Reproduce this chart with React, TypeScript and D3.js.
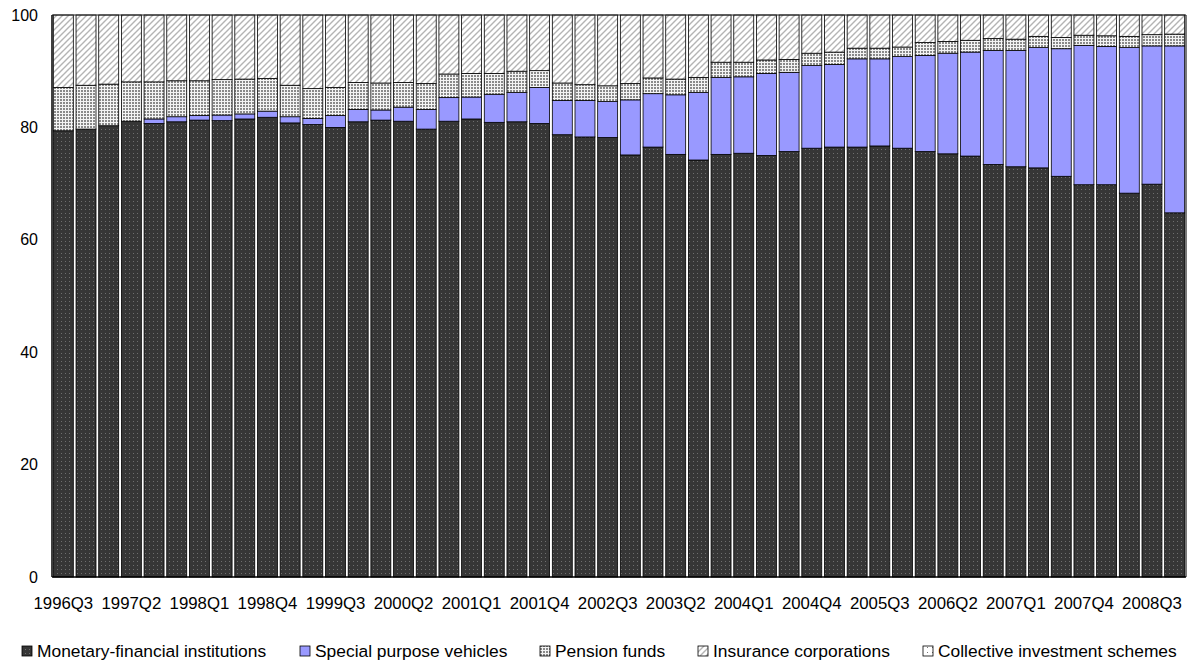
import React from "react";
import * as d3 from "d3";

const quarters = [
  "1996Q3","1996Q4","1997Q1","1997Q2","1997Q3","1997Q4","1998Q1","1998Q2","1998Q3","1998Q4",
  "1999Q1","1999Q2","1999Q3","1999Q4","2000Q1","2000Q2","2000Q3","2000Q4","2001Q1","2001Q2",
  "2001Q3","2001Q4","2002Q1","2002Q2","2002Q3","2002Q4","2003Q1","2003Q2","2003Q3","2003Q4",
  "2004Q1","2004Q2","2004Q3","2004Q4","2005Q1","2005Q2","2005Q3","2005Q4","2006Q1","2006Q2",
  "2006Q3","2006Q4","2007Q1","2007Q2","2007Q3","2007Q4","2008Q1","2008Q2","2008Q3","2008Q4",
];

const tickLabels = [
  "1996Q3","1997Q2","1998Q1","1998Q4","1999Q3","2000Q2","2001Q1","2001Q4","2002Q3",
  "2003Q2","2004Q1","2004Q4","2005Q3","2006Q2","2007Q1","2007Q4","2008Q3",
];

const yTicks = [0, 20, 40, 60, 80, 100];

const mfi = [79.4,79.7,80.3,81.1,80.7,81.0,81.3,81.2,81.5,81.8,80.8,80.5,80.0,81.0,81.3,81.1,79.7,81.1,81.5,80.9,81.0,80.7,78.7,78.3,78.2,75.1,76.5,75.2,74.2,75.2,75.4,75.0,75.7,76.3,76.5,76.5,76.7,76.3,75.7,75.3,74.9,73.4,73.0,72.8,71.3,69.8,69.8,68.3,69.9,64.8];
const spv = [0,0,0,0,0.8,0.9,0.8,1.0,0.9,1.1,1.1,1.1,2.1,2.2,1.8,2.5,3.5,4.2,3.9,5.0,5.2,6.4,6.1,6.5,6.4,9.8,9.5,10.6,12.0,13.7,13.6,14.6,14.1,14.7,14.7,15.7,15.5,16.3,17.1,17.9,18.5,20.3,20.7,21.4,22.7,24.8,24.6,25.9,24.6,29.7];
const pension = [7.7,7.8,7.4,7.0,6.6,6.4,6.2,6.3,6.2,5.8,5.6,5.3,5.0,4.8,4.8,4.4,4.6,4.2,4.2,3.7,3.8,3.0,3.1,2.8,2.8,2.9,2.8,2.8,2.7,2.7,2.6,2.4,2.3,2.2,2.2,1.9,1.9,1.7,2.3,2.1,2.1,2.1,2.0,2.0,2.0,1.8,1.9,2.0,2.0,2.1];
const insurance = [12.9,12.5,12.3,11.9,11.9,11.7,11.7,11.5,11.4,11.3,12.5,13.1,12.9,12.0,12.1,12.0,12.2,10.5,10.4,10.4,10.0,9.9,12.1,12.4,12.6,12.2,11.2,11.4,11.1,8.4,8.4,8.0,7.9,6.8,6.6,5.9,5.9,5.7,4.9,4.7,4.5,4.2,4.3,3.8,4.0,3.6,3.7,3.8,3.5,3.4];
const collective = [0,0,0,0,0,0,0,0,0,0,0,0,0,0,0,0,0,0,0,0,0,0,0,0,0,0,0,0,0,0,0,0,0,0,0,0,0,0,0,0,0,0,0,0,0,0,0,0,0,0];

const seriesNames = [
  "Monetary-financial institutions",
  "Special purpose vehicles",
  "Pension funds",
  "Insurance corporations",
  "Collective investment schemes",
];
const seriesKeys = ["mfi", "spv", "pension", "insurance", "collective"];
const seriesFills = ["url(#pMfi)", "#9999ff", "url(#pPension)", "url(#pIns)", "url(#pCis)"];
const legendX = [22, 300, 540, 698, 923];

const W = 1192, H = 662;
const M = { left: 52, right: 1186, top: 15, bottom: 577 };

export default function App() {
  const rows = quarters.map((q, i) => ({
    q, mfi: mfi[i], spv: spv[i], pension: pension[i], insurance: insurance[i], collective: collective[i],
  }));
  const stacked = d3.stack<any>().keys(seriesKeys)(rows);
  const x = d3.scaleBand<string>().domain(quarters).range([M.left, M.right]).paddingInner(0.12).paddingOuter(0.06);
  const y = d3.scaleLinear().domain([0, 100]).range([M.bottom, M.top]);
  const font = "'Liberation Sans', Arial, sans-serif";

  return (
    <svg width={W} height={H} style={{ position: "absolute", left: 0, top: 0, background: "#fff" }} fontFamily={font}>
      <defs>
        <pattern id="pMfi" patternUnits="userSpaceOnUse" width={4} height={4}>
          <rect width={4} height={4} fill="#363636" />
          <rect x={1} y={1} width={1} height={1} fill="#6e6e6e" />
        </pattern>
        <pattern id="pPension" patternUnits="userSpaceOnUse" width={3} height={3}>
          <rect width={3} height={3} fill="#f4f4f4" />
          <rect x={0} y={0} width={2} height={2} fill="#8a8a8a" />
        </pattern>
        <pattern id="pIns" patternUnits="userSpaceOnUse" width={6} height={6}>
          <rect width={6} height={6} fill="#fff" />
          <path d="M-1,7 L7,-1 M-1,1 L1,-1 M5,7 L7,5" stroke="#b4b4b4" strokeWidth={1.4} />
        </pattern>
        <pattern id="pCis" patternUnits="userSpaceOnUse" width={5} height={5}>
          <rect width={5} height={5} fill="#fff" />
          <rect x={2} y={2} width={1} height={1} fill="#777" />
        </pattern>
      </defs>

      {stacked.map((s, si) => (
        <g key={si}>
          {s.map((d, i) => {
            const h = y(d[0]) - y(d[1]);
            if (h <= 0) return null;
            return (
              <rect key={i} x={x(quarters[i])!} y={y(d[1])} width={x.bandwidth()} height={h}
                fill={seriesFills[si]} stroke="#000" strokeWidth={0.8} />
            );
          })}
        </g>
      ))}

      {/* frame */}
      <line x1={M.left} x2={M.right} y1={M.top} y2={M.top} stroke="#222" strokeWidth={1.2} />
      <line x1={M.right} x2={M.right} y1={M.top} y2={M.bottom} stroke="#222" strokeWidth={1.2} />
      <line x1={M.left} x2={M.left} y1={M.top} y2={M.bottom} stroke="#000" strokeWidth={1.5} />
      <line x1={M.left} x2={M.right} y1={M.bottom} y2={M.bottom} stroke="#000" strokeWidth={1.5} />

      {yTicks.map((t) => (
        <text key={t} x={38} y={y(t)} dy="0.35em" textAnchor="end" fontSize={16} fill="#000">{t}</text>
      ))}

      {tickLabels.map((t) => (
        <text key={t} x={x(t)! + x.bandwidth() / 2} y={603} dy="0.35em" textAnchor="middle" fontSize={16.8} fill="#000">{t}</text>
      ))}

      {seriesNames.map((n, i) => (
        <g key={n}>
          <rect x={legendX[i]} y={646} width={10} height={10} fill={seriesFills[i]} stroke="#000" strokeWidth={0.8} />
          <text x={legendX[i] + 15} y={651} dy="0.35em" fontSize={17.4} fill="#000">{n}</text>
        </g>
      ))}
    </svg>
  );
}
